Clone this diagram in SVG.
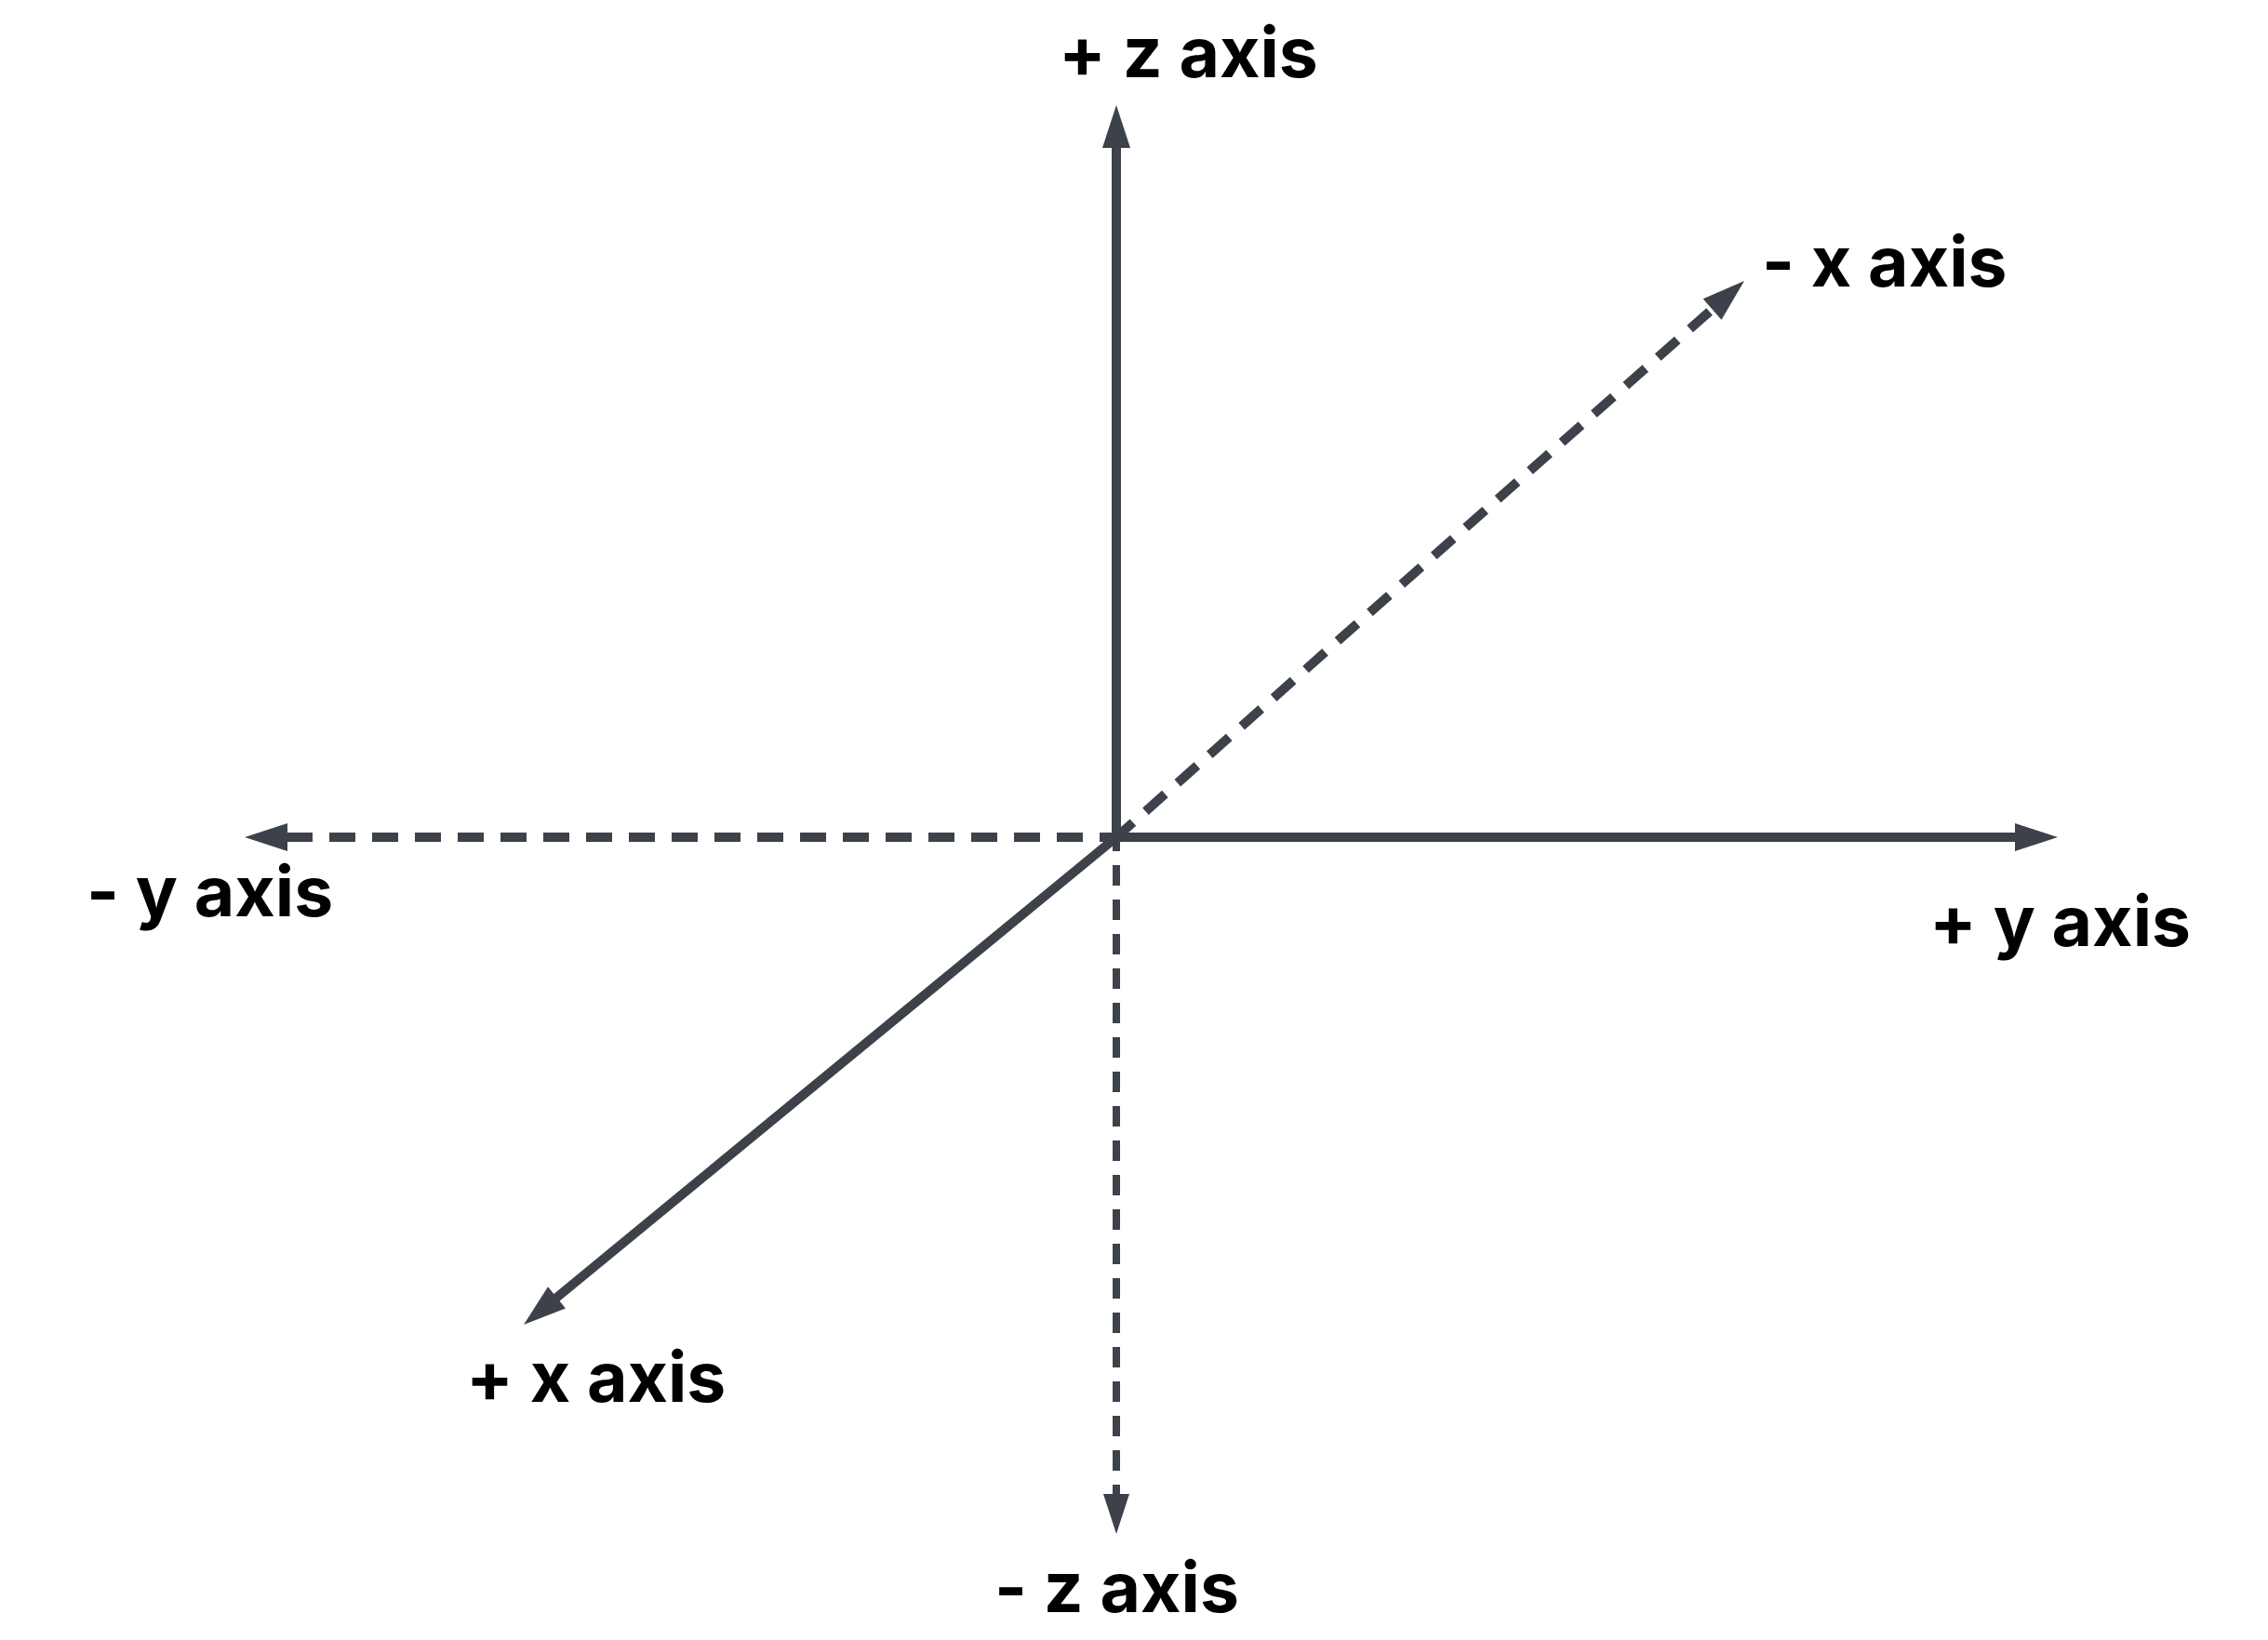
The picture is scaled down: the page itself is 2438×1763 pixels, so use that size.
<svg xmlns="http://www.w3.org/2000/svg" width="2438" height="1763" viewBox="0 0 2438 1763">
<style>
.lbl{font-family:Inter,"Noto Sans","Liberation Sans",sans-serif;font-weight:700;font-size:75px;fill:#000}
.solid{stroke:#3c414a;stroke-width:10;fill:none}
.dash{stroke:#3c414a;stroke-width:10;fill:none;stroke-dasharray:28 18}
.dashz{stroke:#3c414a;stroke-width:8;fill:none;stroke-dasharray:22 15}
.head{fill:#3c414a}
</style>
<rect width="2438" height="1763" fill="#fff"/>
<g id="connectors">
<line class="dash" x1="1210" y1="900" x2="309" y2="900"/>
<line class="dashz" x1="1200" y1="893" x2="1200" y2="1607"/>
<line class="dash" x1="1197" y1="902.7" x2="1842" y2="331"/>
<line class="solid" x1="1200" y1="905" x2="1200" y2="157"/>
<line class="solid" x1="1195" y1="900" x2="2168" y2="900"/>
<line class="solid" x1="1200" y1="900" x2="597" y2="1396"/>
<polygon class="head" points="1200,113 1215,159 1185,159"/>
<polygon class="head" points="2212,900 2166,915 2166,885"/>
<polygon class="head" points="263,900 309,885 309,915"/>
<polygon class="head" points="1200,1649 1186,1606 1214,1606"/>
<polygon class="head" points="1875,302 1850.5,343.7 1830.7,321.3"/>
<polygon class="head" points="563,1424 608,1406.4 589,1383.2"/>
</g>
<g id="pz"><text class="lbl" x="1138" y="83">+ z axis</text></g>
<g id="nx"><text class="lbl" x="1894" y="308">- x axis</text></g>
<g id="ny"><text class="lbl" x="93" y="985">- y axis</text></g>
<g id="py"><text class="lbl" x="2074" y="1017">+ y axis</text></g>
<g id="px"><text class="lbl" x="501" y="1507">+ x axis</text></g>
<g id="nz"><text class="lbl" x="1069" y="1733">- z axis</text></g>
</svg>
